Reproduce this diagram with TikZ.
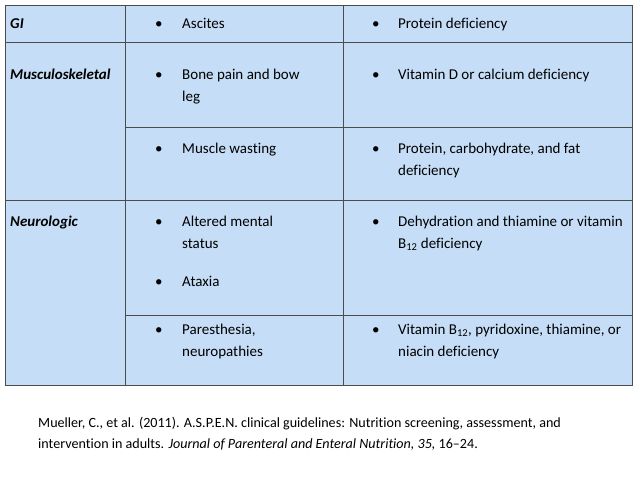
\documentclass[tikz,border=0pt]{standalone}
\usepackage{fontspec}
\setmainfont[RawFeature=-liga]{Carlito}
\begin{document}
\begin{tikzpicture}[x=1pt,y=-1pt,
  t/.style={anchor=base west,inner sep=0pt,font=\fontsize{15}{18}\selectfont},
  b/.style={anchor=base west,inner sep=0pt,font=\fontsize{15}{18}\selectfont},
  c/.style={anchor=base west,inner sep=0pt,font=\fontsize{14.1}{16}\selectfont},
  grid/.style={draw=black!70,line width=0.8pt}]
\useasboundingbox (0,0) rectangle (638,479);
\fill[fill={rgb,255:red,197;green,221;blue,246}] (5,5) rectangle (632,385);
\draw[grid] (5,5) rectangle (632,385);
\draw[grid] (125,5) -- (125,385) (343,5) -- (343,385);
\draw[grid] (5,42) -- (632,42) (5,200) -- (632,200);
\draw[grid] (125,127) -- (632,127) (125,315) -- (632,315);
% row labels
\node[t] (gi) at (10,28.5) {\textbf{\textit{GI}}};
\node[t] (ms) at (10,79.5) {\textbf{\textit{Musculoskeletal}}};
\node[t] (ne) at (10,226.5) {\textbf{\textit{Neurologic}}};
\foreach \n/\y in {b1/28.5,b2/79.5,b3/153.5,b4/226.5,b5/286.5,b6/334.5}{\node[b] (\n) at (155,\y) {•};}
\foreach \n/\y in {c1/28.5,c2/79.5,c3/153.5,c4/226.5,c6/334.5}{\node[b] (\n) at (372,\y) {•};}
\node[t] (a1) at (182,28.5) {Ascites};
\node[t] (a2) at (182,79.5) {Bone pain and bow};
\node[t] (a2b) at (182,101.5) {leg};
\node[t] (a3) at (182,153.5) {Muscle wasting};
\node[t] (a4) at (182,226.5) {Altered mental};
\node[t] (a4b) at (182,248.5) {status};
\node[t] (a5) at (182,286.5) {Ataxia};
\node[t] (a6) at (182,334.5) {Paresthesia,};
\node[t] (a6b) at (182,356.5) {neuropathies};
\node[t] (d1) at (398,28.5) {Protein deficiency};
\node[t] (d2) at (398,79.5) {Vitamin D or calcium deficiency};
\node[t] (d3) at (398,153.5) {Protein, carbohydrate, and fat};
\node[t] (d3b) at (398,175.5) {deficiency};
\node[t] (d4) at (398,226.5) {Dehydration and thiamine or vitamin};
\node[t] (d4b) at (398,248.5) {B\textsubscript{12} deficiency};
\node[t] (d6) at (398,334.5) {Vitamin B\textsubscript{12}, pyridoxine, thiamine, or};
\node[t] (d6b) at (398,356.5) {niacin deficiency};
\node[c] (r1) at (38,427) {Mueller, C., et al. (2011). A.S.P.E.N. clinical guidelines: Nutrition screening, assessment, and};
\node[c] (r2) at (38,448) {intervention in adults. \textit{Journal of Parenteral and Enteral Nutrition, 35,} 16–24.};
\end{tikzpicture}
\end{document}
